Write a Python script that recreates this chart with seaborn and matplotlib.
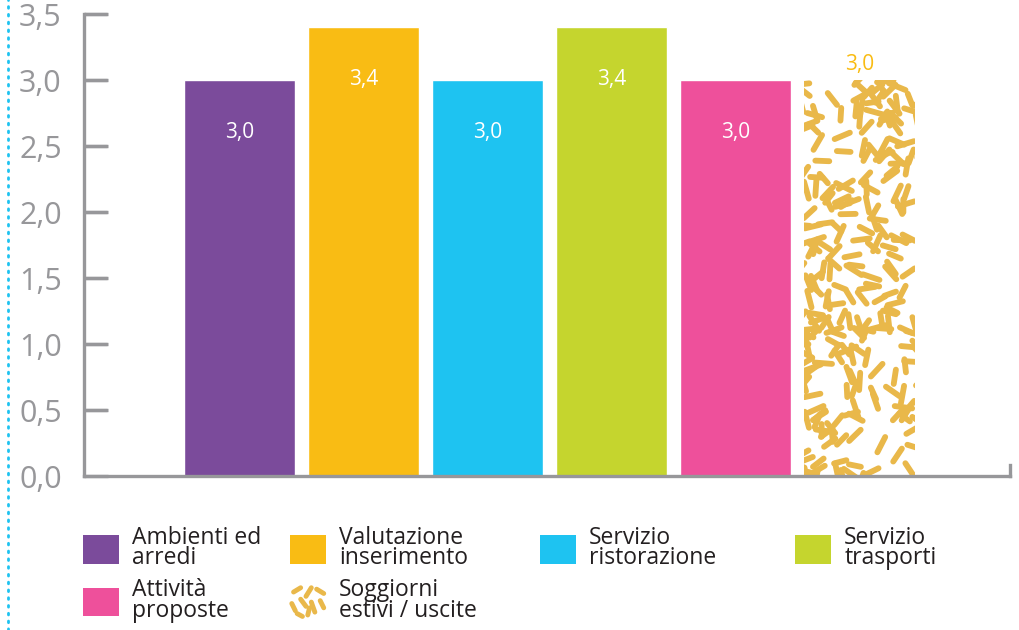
import numpy as np
import pandas as pd
import matplotlib
matplotlib.use("Agg")
import matplotlib.pyplot as plt
import seaborn as sns
from matplotlib.lines import Line2D
from matplotlib.patches import Patch
from matplotlib.collections import LineCollection
from matplotlib.legend_handler import HandlerBase

# data
categories = ["Ambienti ed\narredi", "Valutazione\ninserimento", "Servizio\nristorazione",
              "Servizio\ntrasporti", "Attività\nproposte", "Soggiorni\nestivi / uscite"]
values = [3.0, 3.4, 3.0, 3.4, 3.0, 3.0]
value_labels = ["3,0", "3,4", "3,0", "3,4", "3,0", "3,0"]
yticks = [0.0, 0.5, 1.0, 1.5, 2.0, 2.5, 3.0, 3.5]
ytick_labels = ["0,0", "0,5", "1,0", "1,5", "2,0", "2,5", "3,0", "3,5"]

colors = ["#7B4B9B", "#F9BC14", "#1EC3F1", "#C5D52E", "#EE509B", "#E9B84A"]
axis_grey = "#97979A"
text_dark = "#231F20"

sns.set_style("white")
plt.rcParams["font.family"] = ["Open Sans", "DejaVu Sans"]

fig = plt.figure(figsize=(10.19, 6.3), dpi=100)
W, H = 1019, 630
ax_w_px = 1010 - 84
ax = fig.add_axes([84 / W, (H - 476) / H, ax_w_px / W, (476 - 14) / H])

df = pd.DataFrame({"cat": categories, "val": values})
sns.barplot(data=df, x="cat", y="val", hue="cat", palette=colors, order=categories,
            hue_order=categories, legend=False, width=0.895, saturation=1, ax=ax)

ax.set_ylim(0, 3.5)
ax.set_xlim(-1.254, 6.21)
ax.set_xlabel("")
ax.set_ylabel("")
ax.set_xticks([])
ax.set_yticks(yticks)
ax.set_yticklabels(ytick_labels, fontsize=22, color=axis_grey)
ax.tick_params(axis="y", left=True, direction="in", length=17.5, width=2.4,
               color=axis_grey, pad=16)
for side in ["top", "right"]:
    ax.spines[side].set_visible(False)
for side in ["left", "bottom"]:
    ax.spines[side].set_color(axis_grey)
    ax.spines[side].set_linewidth(2.4)

# inward tick marks, also drawn at figure level so nothing in the axes hides them
ytrans = ax.get_yaxis_transform()
for y in yticks[1:]:
    fig.add_artist(Line2D([0, 23 / ax_w_px], [y, y], transform=ytrans,
                          color=axis_grey, lw=2.4, solid_capstyle="butt"))
# small upturn at the right end of the x axis
fig.add_artist(Line2D([1, 1], [0, 0.024], transform=ax.transAxes, color=axis_grey,
                      lw=2.4, solid_capstyle="projecting"))

# last bar gets a dashed texture instead of a fill
pattern_bar = ax.patches[-1]
pattern_bar.set_facecolor("white")
px_x = 124.0  # pixels per x unit
px_y = 132.0  # pixels per y unit
rng = np.random.default_rng(11)
x0 = pattern_bar.get_x()
bw = pattern_bar.get_width()
bh = pattern_bar.get_height()
n = 250
cx = x0 - 0.05 + rng.random(n) * (bw + 0.1)
cy = -0.05 + rng.random(n) * (bh + 0.1)
ang = rng.random(n) * np.pi
ln = rng.uniform(12, 18, n) / 2
segs = [[(a - l * np.cos(t) / px_x, b - l * np.sin(t) / px_y),
         (a + l * np.cos(t) / px_x, b + l * np.sin(t) / px_y)]
        for a, b, t, l in zip(cx, cy, ang, ln)]
lc = LineCollection(segs, colors=colors[-1], linewidths=4.2, capstyle="round")
ax.add_collection(lc)
lc.set_clip_path(pattern_bar)

# value labels
for i, (v, lab) in enumerate(zip(values, value_labels)):
    if i == len(values) - 1:
        ax.text(i, v + 0.12, lab, ha="center", va="center", fontsize=15,
                color=colors[1])
    else:
        ax.text(i, v - 0.4, lab, ha="center", va="center", fontsize=15,
                color="white")


class HandlerDashes(HandlerBase):
    def create_artists(self, legend, orig_handle, xd, yd, width, height, fontsize, trans):
        pts = [(0.1, 0.85, 0.3, 1.0), (0.45, 0.7, 0.6, 1.0), (0.75, 0.95, 0.95, 0.8),
               (0.05, 0.45, 0.15, 0.2), (0.3, 0.6, 0.45, 0.35), (0.6, 0.5, 0.7, 0.15),
               (0.85, 0.55, 0.95, 0.3), (0.2, 0.1, 0.35, 0.0), (0.5, 0.05, 0.55, 0.3)]
        arts = []
        for a, b, c, d in pts:
            l = Line2D([-xd + a * width, -xd + c * width],
                       [-yd + b * height, -yd + d * height],
                       color=colors[-1], lw=3.5, solid_capstyle="round", transform=trans)
            arts.append(l)
        return arts


handles = [Patch(facecolor=c, edgecolor="none") for c in colors[:-1]]
handles.append(Patch(facecolor="white", edgecolor="none"))

# legend columns (row-wise order as in the reference)
columns = [[0, 4], [1, 5], [2], [3]]
col_x = [83, 290, 540, 795]
for idx, xpx in zip(columns, col_x):
    leg = fig.legend([handles[i] for i in idx], [categories[i] for i in idx],
                     loc="upper left", bbox_to_anchor=(xpx / W, 1 - 526 / H),
                     frameon=False, fontsize=16.5, handlelength=1.55, handleheight=1.55,
                     handletextpad=0.6, labelspacing=0.35, borderaxespad=0, borderpad=0,
                     handler_map={handles[-1]: HandlerDashes()})
    for t in leg.get_texts():
        t.set_color(text_dark)
        t.set_linespacing(0.8)

# dotted cyan rule on the left edge
fig.add_artist(Line2D([8 / W, 8 / W], [0, 1], transform=fig.transFigure,
                      color=colors[2], lw=2, linestyle=(0, (0.6, 2.2)),
                      dash_capstyle="round"))

fig.savefig("out.png", dpi=100)
